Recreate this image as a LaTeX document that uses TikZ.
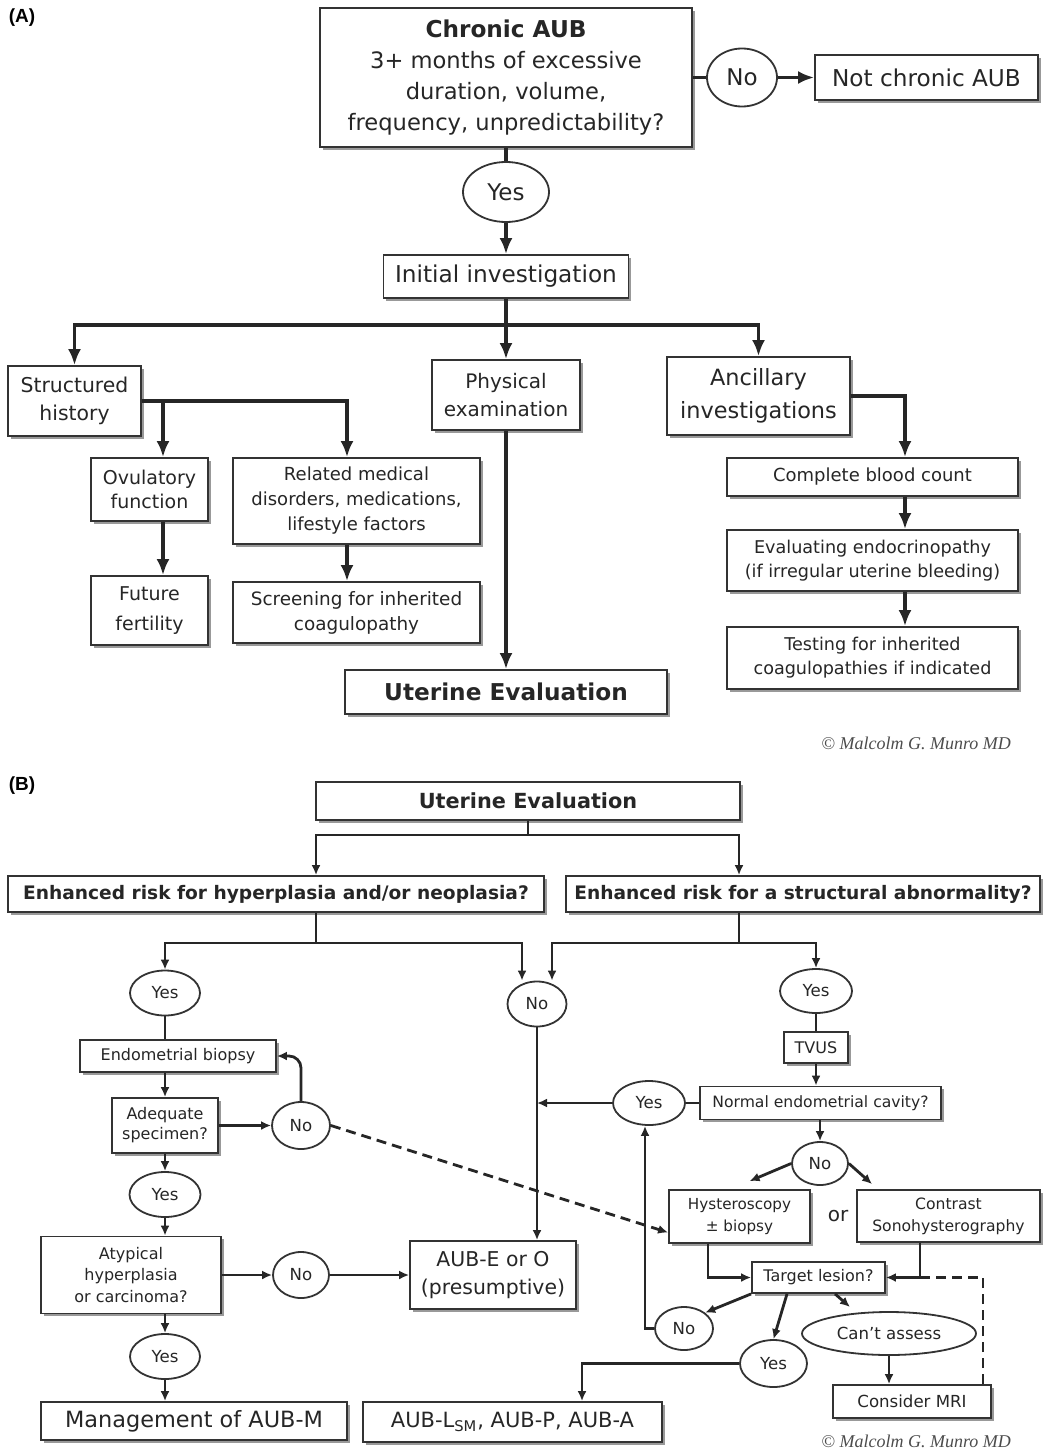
\documentclass[tikz,border=0pt]{standalone}
\usepackage{fontspec}
\setmainfont{DejaVu Sans}
\newfontfamily\labfont{Liberation Sans}
\newfontfamily\copyfont{Liberation Serif}
\usetikzlibrary{arrows.meta}
\usetikzlibrary{shadows}
\usetikzlibrary{shapes.geometric}
\usetikzlibrary{positioning}
\tikzset{
sz/.style 2 args = {font=\fontsize{#1}{#2}\selectfont},
szb/.style 2 args = {font=\fontsize{#1}{#2}\selectfont\bfseries},
box/.style = {draw=black!80, line width=0.9pt, fill=white, align=center, inner sep=1pt, text=black!85,
              drop shadow={shadow xshift=1.3pt, shadow yshift=-1.3pt, fill=black!40, opacity=1}},
oval/.style = {ellipse, draw=black!80, line width=0.9pt, fill=white, inner sep=0pt, text=black!85},
ovA/.style = {oval, sz={11.5}{14}},
ovB/.style = {oval, sz={8.3}{10}},
lineA/.style = {line width=1.6pt, draw=black!85},
arrA/.style = {lineA, -{Latex[length=8pt,width=6.5pt]}},
lineB/.style = {line width=1.4pt, draw=black!85},
arrB/.style = {lineB, -{Latex[length=5pt,width=4.5pt]}},
dashB/.style = {dash pattern=on 5pt off 3pt},
lab/.style = {font=\labfont\bfseries\fontsize{9.5}{11}\selectfont},
copyr/.style = {anchor=east, text=black!70, font=\copyfont\itshape\fontsize{9}{10}\selectfont}
}
\begin{document}
\begin{tikzpicture}[x=0.5pt, y=-0.5pt]
\useasboundingbox (0,0) rectangle (1043,1455);
\node[lab] (la) at (22,18) {(A)};
\node[box, sz={11.3}{15.5}, minimum width=186pt, minimum height=69.5pt] (chronic) at (506,77.5)
  {{\fontsize{11.6}{15.5}\selectfont\bfseries Chronic AUB}\\3+ months of excessive\\duration, volume,\\frequency, unpredictability?};
\node[ovA, minimum width=35pt, minimum height=29pt] (noA) at (742,77.5) {No};
\node[box, sz={11.6}{14}, minimum width=111.5pt, minimum height=22.5pt] (notchr) at (926.5,77.5) {Not chronic AUB};
\node[ovA, minimum width=43pt, minimum height=30pt] (yesA) at (506,192) {Yes};
\node[box, sz={11.6}{14}, minimum width=122.5pt, minimum height=21.5pt] (initial) at (506,276.5) {Initial investigation};
\node[box, sz={10.2}{14}, minimum width=66.5pt, minimum height=35pt] (struct) at (74.5,401) {Structured\\history};
\node[box, sz={10}{14}, minimum width=74pt, minimum height=35pt] (physical) at (506,395) {Physical\\examination};
\node[box, sz={11.2}{16.5}, minimum width=91.5pt, minimum height=39pt] (ancil) at (758.5,396) {Ancillary\\investigations};
\node[box, sz={9.5}{12}, minimum width=58.5pt, minimum height=31.5pt] (ovul) at (149.5,489.5) {Ovulatory\\function};
\node[box, sz={9.5}{15}, minimum width=58.5pt, minimum height=34.5pt] (future) at (149.5,610.5) {Future\\fertility};
\node[box, sz={9}{12.5}, minimum width=123.5pt, minimum height=43pt] (related) at (356.5,501) {Related medical\\disorders, medications,\\lifestyle factors};
\node[box, sz={9.2}{12.5}, minimum width=123.5pt, minimum height=30.5pt] (screen) at (356.5,612.5) {Screening for inherited\\coagulopathy};
\node[box, szb={11.6}{14}, minimum width=161pt, minimum height=22pt] (uteA) at (506,692) {Uterine Evaluation};
\node[box, sz={9}{12}, minimum width=145.5pt, minimum height=19pt] (cbc) at (872.5,477) {Complete blood count};
\node[box, sz={8.8}{12}, minimum width=145.5pt, minimum height=30.5pt] (endo) at (872.5,560.5) {Evaluating endocrinopathy\\(if irregular uterine bleeding)};
\node[box, sz={8.8}{12}, minimum width=145.5pt, minimum height=31pt] (testing) at (872.5,658) {Testing for inherited\\coagulopathies if indicated};
\node[copyr] (cpA) at (1018,743) {© Malcolm G. Munro MD};
\draw[lineA] (chronic.south) -- (yesA.north);
\draw[arrA] (yesA.south) -- (initial.north);
\draw[lineA] (chronic.east) -- (noA.west);
\draw[arrA] (noA.east) -- (notchr.west);
\coordinate (spA) at (506,325);
\draw[lineA] (initial.south) -- (spA);
\draw[arrA] (spA) -| (struct.north);
\draw[arrA] (spA) -- (physical.north);
\draw[arrA] (spA) -| (ancil.north);
\draw[arrA] (struct.east) -| ([xshift=-4.75pt]related.north);
\draw[arrA] ([xshift=6.75pt]ovul.north |- struct.east) -- ([xshift=6.75pt]ovul.north);
\draw[arrA] ([xshift=6.75pt]ovul.south) -- ([xshift=6.75pt]future.north);
\draw[arrA] ([xshift=-4.75pt]related.south) -- ([xshift=-4.75pt]screen.north);
\draw[arrA] (physical.south) -- (uteA.north);
\draw[arrA] (ancil.east) -| ([xshift=16.25pt]cbc.north);
\draw[arrA] ([xshift=16.25pt]cbc.south) -- ([xshift=16.25pt]endo.north);
\draw[arrA] ([xshift=16.25pt]endo.south) -- ([xshift=16.25pt]testing.north);
\node[lab] (lb) at (22,786) {(B)};
\node[box, szb={10.4}{12}, minimum width=212pt, minimum height=19pt] (uteB) at (528,801) {Uterine Evaluation};
\node[box, szb={9.3}{11}, minimum width=268pt, minimum height=18pt] (riskL) at (276,894) {Enhanced risk for hyperplasia and/or neoplasia?};
\node[box, szb={9.3}{11}, minimum width=237pt, minimum height=18pt] (riskR) at (803,894) {Enhanced risk for a structural abnormality?};
\node[ovB, minimum width=35pt, minimum height=22.5pt] (yesL) at (165,993) {Yes};
\node[ovB, minimum width=29.5pt, minimum height=22.5pt] (noM) at (537,1004) {No};
\node[ovB, minimum width=36pt, minimum height=22pt] (yesR) at (816,991) {Yes};
\node[box, sz={8}{10}, minimum width=98pt, minimum height=16pt] (biopsy) at (178,1056) {Endometrial biopsy};
\node[box, sz={8}{10}, minimum width=32pt, minimum height=15.5pt] (tvus) at (816,1047.5) {TVUS};
\node[box, sz={7.8}{10}, minimum width=120.5pt, minimum height=16.5pt] (normal) at (820.5,1103) {Normal endometrial cavity?};
\node[ovB, minimum width=36pt, minimum height=22pt] (yesN) at (649,1103) {Yes};
\node[box, sz={8}{10}, minimum width=53pt, minimum height=27.5pt] (adeq) at (165,1125.5) {Adequate\\specimen?};
\node[ovB, minimum width=29pt, minimum height=23.5pt] (noAd) at (301,1125.5) {No};
\node[ovB, minimum width=35.5pt, minimum height=22.5pt] (yesAd) at (165,1194.5) {Yes};
\node[box, sz={8}{10.75}, minimum width=90pt, minimum height=38.5pt] (atyp) at (131,1275) {Atypical\\hyperplasia\\or carcinoma?};
\node[ovB, minimum width=28pt, minimum height=23pt] (noAt) at (301,1275) {No};
\node[box, sz={10.2}{14}, minimum width=83pt, minimum height=34pt] (aube) at (493,1275) {AUB-E or O\\(presumptive)};
\node[ovB, minimum width=35pt, minimum height=22.5pt] (yesAt) at (165,1356.5) {Yes};
\node[box, sz={11.2}{14}, minimum width=153pt, minimum height=19pt] (mgmt) at (194,1421) {Management of AUB-M};
\node[box, sz={10.5}{14}, minimum width=149.5pt, minimum height=20pt] (aubl) at (512.5,1422) {AUB-L\textsubscript{SM}, AUB-P, AUB-A};
\node[ovB, minimum width=28pt, minimum height=21.5pt] (noN) at (820,1163.5) {No};
\node[box, sz={7.6}{11}, minimum width=70.5pt, minimum height=26.5pt] (hyst) at (739.5,1216.5) {Hysteroscopy\\± biopsy};
\node[sz={10}{12}, text=black!85] (orl) at (838,1216) {or};
\node[box, sz={7.8}{11}, minimum width=91.5pt, minimum height=26pt] (contr) at (948.5,1216) {Contrast\\Sonohysterography};
\node[box, sz={8}{10}, minimum width=66.5pt, minimum height=15.5pt] (target) at (818.5,1277.5) {Target lesion?};
\node[ovB, minimum width=29pt, minimum height=21.5pt] (noT) at (684,1328.5) {No};
\node[ovB, minimum width=33.5pt, minimum height=23.5pt] (yesT) at (773.5,1363.5) {Yes};
\node[ovB, minimum width=87pt, minimum height=21.5pt] (cant) at (889,1333.5) {Can’t assess};
\node[box, sz={8.3}{10}, minimum width=79pt, minimum height=16.5pt] (mri) at (912,1401.5) {Consider MRI};
\node[copyr] (cpB) at (1018,1441) {© Malcolm G. Munro MD};
\coordinate (spB) at (528,835);
\coordinate (jL) at (316,943);
\coordinate (jR) at (739,943);
\coordinate (cj) at (920,1277.5);
\coordinate (tc) at (850,1307);
\draw[lineB] (uteB.south) -- (spB);
\draw[arrB] (spB) -| ([xshift=20pt]riskL.north);
\draw[arrB] (spB) -| ([xshift=-32pt]riskR.north);
\draw[lineB] ([xshift=20pt]riskL.south) -- (jL);
\draw[arrB] (jL) -| (yesL.north);
\draw[arrB] (jL) -| ([xshift=-7.5pt]noM.north);
\draw[lineB] ([xshift=-32pt]riskR.south) -- (jR);
\draw[arrB] (jR) -| ([xshift=7.5pt]noM.north);
\draw[arrB] (jR) -| (yesR.north);
\draw[lineB] (yesL.south) -- (yesL.south |- biopsy.north);
\draw[arrB] (yesL.south |- biopsy.south) -- (adeq.north);
\draw[arrB] (adeq.east) -- (noAd.west);
\draw[arrB, rounded corners=6pt] (noAd.north) |- (biopsy.east);
\draw[arrB, dashB] (noAd.east) -- ([yshift=-8pt]hyst.west);
\draw[arrB] (adeq.south) -- (yesAd.north);
\draw[arrB] (yesAd.south) -- (yesAd.south |- atyp.north);
\draw[arrB] (atyp.east) -- (noAt.west);
\draw[arrB] (noAt.east) -- (aube.west);
\draw[arrB] (yesAd.south |- atyp.south) -- (yesAt.north);
\draw[arrB] (yesAt.south) -- (yesAt.south |- mgmt.north);
\draw[arrB] (noM.south) -- (noM.south |- aube.north);
\draw[lineB] (yesR.south) -- (tvus.north);
\draw[arrB] (tvus.south) -- (tvus.south |- normal.north);
\draw[lineB] (normal.west) -- (yesN.east);
\draw[arrB] (yesN.west) -- (yesN.west -| noM.south);
\draw[arrB] (noN.north |- normal.south) -- (noN.north);
\draw[arrB] (noN.west) -- ([xshift=5pt,yshift=4pt]hyst.north);
\draw[arrB] (noN.east) -- ([xshift=8pt,yshift=2.5pt]contr.north west);
\draw[arrB] ([xshift=-15.75pt]hyst.south) |- (target.west);
\draw[arrB] ([xshift=-14.25pt]contr.south) |- (cj) -- (target.east);
\draw[lineB, dashB] ([xshift=35.5pt]mri.north) |- (cj);
\draw[arrB] (target.south west) -- (noT.north east);
\draw[arrB] ([xshift=-15.75pt]target.south) -- (yesT.north);
\draw[arrB] ([xshift=8.25pt]target.south) -- (tc);
\draw[arrB] (noT.west) -| ([xshift=-2pt]yesN.south);
\draw[arrB] (cant.south) -- (cant.south |- mri.north);
\draw[arrB] (yesT.west) -| ([xshift=34.75pt]aubl.north);
\end{tikzpicture}
\end{document}
